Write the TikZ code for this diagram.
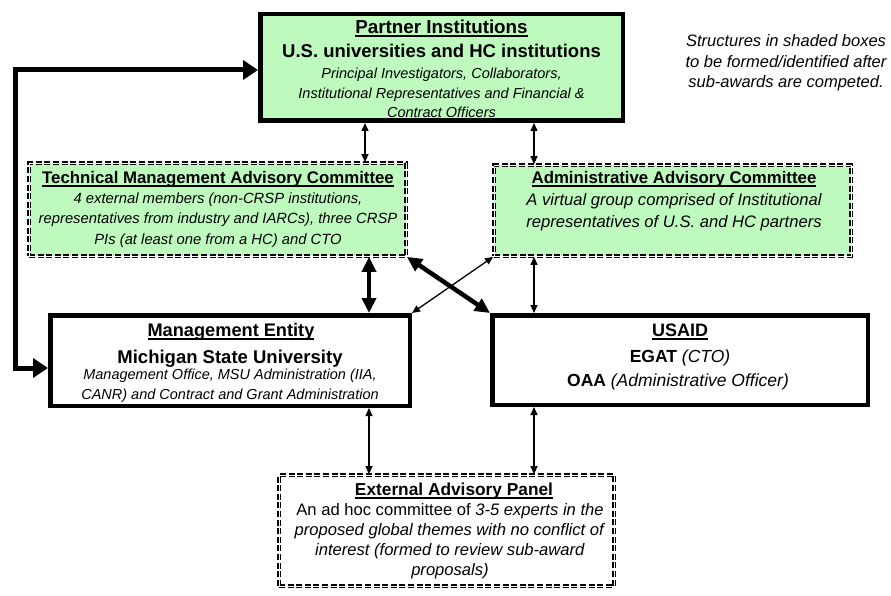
\documentclass[tikz,border=0pt]{standalone}
\usepackage{fontspec}
\setmainfont{Liberation Sans}
\usetikzlibrary{arrows.meta,calc}
\definecolor{boxgreen}{RGB}{190,250,190}
\newcommand\ulx[1]{\setbox0=\hbox{#1}\leavevmode\rlap{\rule[-3.4pt]{\wd0}{1.7pt}}\box0}
\begin{document}
\begin{tikzpicture}[x=1pt,y=-1pt,
  solidbox/.style={draw=black, line width=4.5pt, inner sep=0pt},
  dashbox/.style={draw=black, line width=1.8pt, double=white, double distance=0.8pt, dash pattern=on 6pt off 2.6pt, inner sep=0pt},
  greenfill/.style={fill=boxgreen},
  ttl/.style={font=\bfseries\fontsize{16.8}{19}\selectfont, inner sep=0pt},
  bigb/.style={font=\bfseries\fontsize{18.5}{22}\selectfont, inner sep=0pt},
  itx/.style={font=\itshape\fontsize{14.8}{20.5}\selectfont, align=center, inner sep=0pt},
  thinarr/.style={line width=1.3pt, {Triangle[length=8pt,width=7pt]}-{Triangle[length=8pt,width=7pt]}},
  thickarr/.style={line width=4.5pt, {Triangle[length=15pt,width=14pt]}-{Triangle[length=15pt,width=14pt]}},
  looparr/.style={line width=5pt, {Triangle[length=15pt,width=19pt]}-{Triangle[length=15pt,width=19pt]}}
]
\useasboundingbox (0,0) rectangle (891,596);
\fill[white] (0,0) rectangle (891,596);

% boxes
\node[solidbox, greenfill, minimum width=362.5pt, minimum height=106.5pt] (partner) at (441.5,67.5) {};
\node[dashbox, greenfill, minimum width=377pt, minimum height=93pt] (tmac) at (217.5,209.5) {};
\node[dashbox, greenfill, minimum width=357pt, minimum height=91pt] (aac) at (672.5,210.5) {};
\node[solidbox, fill=white, minimum width=359.5pt, minimum height=90.5pt] (me) at (230,360.5) {};
\node[solidbox, fill=white, minimum width=375.5pt, minimum height=89.5pt] (usaid) at (680,360) {};
\node[dashbox, fill=white, minimum width=335pt, minimum height=111pt] (eap) at (446.5,530.5) {};

% texts
\node[ttl, font=\bfseries\fontsize{18.8}{21}\selectfont] (pt1) at (441.5,28.5) {\ulx{Partner Institutions}};
\node[bigb] (pt2) at (441.5,51) {U.S. universities and HC institutions};
\node[itx, font=\itshape\fontsize{14.5}{19.5}\selectfont] (pt3) at (441.5,93) {Principal Investigators, Collaborators,\\Institutional Representatives and Financial \&\\Contract Officers};

\node[ttl] (tt1) at (218,179) {\ulx{Technical Management Advisory Committee}};
\node[itx] (tt2) at (218,220) {4 external members (non-CRSP institutions,\\representatives from industry and IARCs), three CRSP\\PIs (at least one from a HC) and CTO};

\node[ttl] (at1) at (674,179) {\ulx{Administrative Advisory Committee}};
\node[itx, font=\itshape\fontsize{16.6}{22}\selectfont] (at2) at (674,212) {A virtual group comprised of Institutional\\representatives of U.S. and HC partners};

\node[ttl, font=\bfseries\fontsize{18.2}{21}\selectfont] (mt1) at (231,331.5) {\ulx{Management Entity}};
\node[bigb] (mt2) at (230,359) {Michigan State University};
\node[itx, font=\itshape\fontsize{14.5}{20}\selectfont] (mt3) at (230,386) {Management Office, MSU Administration (IIA,\\CANR) and Contract and Grant Administration};

\node[ttl, font=\bfseries\fontsize{18}{20}\selectfont] (ut1) at (680,332) {\ulx{USAID}};
\node[bigb, font=\bfseries\fontsize{17.5}{20}\selectfont] (ut2) at (680,358) {EGAT \textmd{\textit{(CTO)}}};
\node[bigb, font=\bfseries\fontsize{17.5}{20}\selectfont] (ut3) at (678,382) {OAA \textmd{\textit{(Administrative Officer)}}};

\node[ttl, font=\bfseries\fontsize{17.3}{20}\selectfont] (et1) at (454,491) {\ulx{External Advisory Panel}};
\node[itx, font=\fontsize{16.6}{20}\selectfont] (et2) at (450,541) {An ad hoc committee of \textit{3-5 experts in the}\\\textit{proposed global themes with no conflict of}\\\textit{interest (formed to review sub-award}\\\textit{proposals)}};

\node[itx, font=\itshape\fontsize{16.5}{20.5}\selectfont] (note) at (786,63) {Structures in shaded boxes\\to be formed/identified after\\sub-awards are competed.};

% helper x positions
\coordinate (xa) at (365,0);
\coordinate (xb) at (534,0);
\coordinate (xc) at (369,0);
\coordinate (xl) at (15,0);

% connectors
\draw[thinarr] (partner.south -| xa) -- (tmac.north -| xa);
\draw[thinarr] (partner.south -| xb) -- (aac.north -| xb);
\draw[thickarr] (tmac.south -| xc) -- (me.north -| xc);
\draw[thinarr] (aac.south -| xb) -- (usaid.north -| xb);
\draw[thickarr] (tmac.south east) -- (usaid.north west);
\draw[thinarr] (aac.south west) -- (me.north east);
\draw[thinarr] (me.south -| xc) -- (eap.north -| xc);
\draw[thinarr] (usaid.south -| xb) -- (eap.north -| xb);
\draw[looparr] ([yshift=-2.5pt]partner.west) -- ([yshift=-2.5pt]partner.west -| xl) |- ([yshift=-7.5pt]me.west);
\end{tikzpicture}
\end{document}
